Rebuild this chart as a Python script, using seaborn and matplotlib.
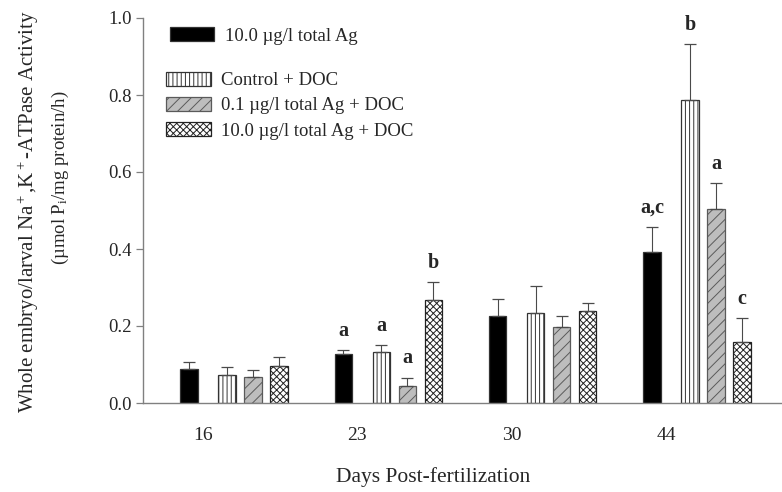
import numpy as np
import pandas as pd
import matplotlib
matplotlib.use("Agg")
import matplotlib.pyplot as plt
import seaborn as sns

# ---------------- data ----------------
days = ["16", "23", "30", "44"]
series = ["10.0 \u00b5g/l total Ag", "Control + DOC",
          "0.1 \u00b5g/l total Ag + DOC", "10.0 \u00b5g/l total Ag + DOC"]
ag10 = [0.088, 0.126, 0.226, 0.392]
ag10_err = [0.018, 0.012, 0.044, 0.065]
ctrl_doc = [0.073, 0.132, 0.234, 0.787]
ctrl_doc_err = [0.020, 0.019, 0.070, 0.145]
ag01_doc = [0.068, 0.044, 0.197, 0.504]
ag01_doc_err = [0.018, 0.022, 0.029, 0.067]
ag10_doc = [0.095, 0.267, 0.239, 0.158]
ag10_doc_err = [0.025, 0.047, 0.021, 0.062]
letters_ag10 = ["", "a", "", "a,c"]
letters_ctrl = ["", "a", "", "b"]
letters_ag01 = ["", "a", "", "a"]
letters_ag10doc = ["", "b", "", "c"]

values = [ag10, ctrl_doc, ag01_doc, ag10_doc]
errors = [ag10_err, ctrl_doc_err, ag01_doc_err, ag10_doc_err]
letters = [letters_ag10, letters_ctrl, letters_ag01, letters_ag10doc]

# ---------------- layout / style ----------------
STRIDE_PX = 154.33
offsets = [-14 / STRIDE_PX, 24 / STRIDE_PX, 50 / STRIDE_PX, 76 / STRIDE_PX]
BAR_W = 17.5 / STRIDE_PX
styles = [
    dict(color="black", edgecolor="#333333", hatch=None),
    dict(color="white", edgecolor="#333333", hatch="||||"),
    dict(color="#bdbdbd", edgecolor="#5a5a5a", hatch="///"),
    dict(color="white", edgecolor="#222222", hatch="xxxxx"),
]

sns.set_theme(style="ticks")
plt.rcParams["font.family"] = ["Liberation Serif", "DejaVu Serif"]
plt.rcParams["mathtext.fontset"] = "stix"
plt.rcParams["hatch.linewidth"] = 0.7

W, H = 782, 492
fig = plt.figure(figsize=(W / 100, H / 100), dpi=100)
ax = fig.add_axes([143 / W, 89 / H, 639 / W, 385 / H])

gidx = np.arange(len(days))
for i, name in enumerate(series):
    df = pd.DataFrame({"x": gidx + offsets[i], "y": values[i]})
    st = styles[i]
    kw = {}
    if st["hatch"]:
        kw["hatch"] = st["hatch"]
    sns.barplot(data=df, x="x", y="y", native_scale=True, width=BAR_W,
                color=st["color"], saturation=1, edgecolor=st["edgecolor"],
                linewidth=0.9, errorbar=None, label=name, ax=ax, **kw)

containers = ax.containers[:4]
for i, cont in enumerate(containers):
    xs = [p.get_x() + p.get_width() / 2 for p in cont.patches]
    ys = [p.get_height() for p in cont.patches]
    err = errors[i]
    ax.errorbar(xs, ys, yerr=[np.zeros(len(err)), err], fmt="none",
                ecolor="#4a4a4a", elinewidth=0.8, capsize=4.6, capthick=0.9,
                zorder=1)
    for x, y, e, lt in zip(xs, ys, err, letters[i]):
        if lt:
            ax.text(x, y + e + 0.024, lt, ha="center", va="bottom",
                    fontsize=14.5, fontweight="bold")

ax.set_xlim((143 - 203) / STRIDE_PX, (782 - 203) / STRIDE_PX)
ax.set_ylim(0, 1.0)
ax.set_xticks(gidx)
ax.set_xticklabels(days, fontsize=14)
ax.set_yticks(np.arange(0, 1.01, 0.2))
ax.set_yticklabels([f"{v:.1f}" for v in np.arange(0, 1.01, 0.2)], fontsize=13.5)
ax.tick_params(axis="x", length=0, pad=17)
ax.tick_params(axis="y", length=5, width=0.9, color="#808080", pad=3)
ax.set_xlabel("")
ax.set_ylabel("")
sns.despine(ax=ax)
for s in ["left", "bottom"]:
    ax.spines[s].set_color("#808080")
    ax.spines[s].set_linewidth(1.0)

fig.text(433.5 / W, 1 - 477 / H, "Days Post-fertilization", ha="center",
         va="center", fontsize=15.5)
fig.text(28 / W, 1 - 212 / H,
         "Whole embryo/larval Na$\\mathregular{^+}$,K$\\mathregular{^+}$-ATPase Activity",
         rotation=90, ha="center", va="center", fontsize=15)
fig.text(60 / W, 1 - 178 / H,
         "(\u00b5mol P$\\mathregular{_i}$/mg protein/h)",
         rotation=90, ha="center", va="center", fontsize=13.5)

fs = 13.5
fpx = fs * 100 / 72
leg1 = ax.legend(handles=[containers[0]], labels=[series[0]], loc="upper left",
                 bbox_to_anchor=(170 / W, 1 - 27 / H), bbox_transform=fig.transFigure,
                 frameon=False, fontsize=fs, borderpad=0, borderaxespad=0,
                 handlelength=44 / fpx, handleheight=15 / fpx,
                 handletextpad=11 / fpx)
ax.add_artist(leg1)
leg2 = ax.legend(handles=list(containers[1:4]), labels=series[1:],
                 loc="upper left", bbox_to_anchor=(166 / W, 1 - 72 / H),
                 bbox_transform=fig.transFigure, frameon=False, fontsize=fs,
                 borderpad=0, borderaxespad=0, handlelength=45 / fpx,
                 handleheight=14 / fpx, handletextpad=10 / fpx,
                 labelspacing=0.41)

fig.savefig("out.png", dpi=100)
